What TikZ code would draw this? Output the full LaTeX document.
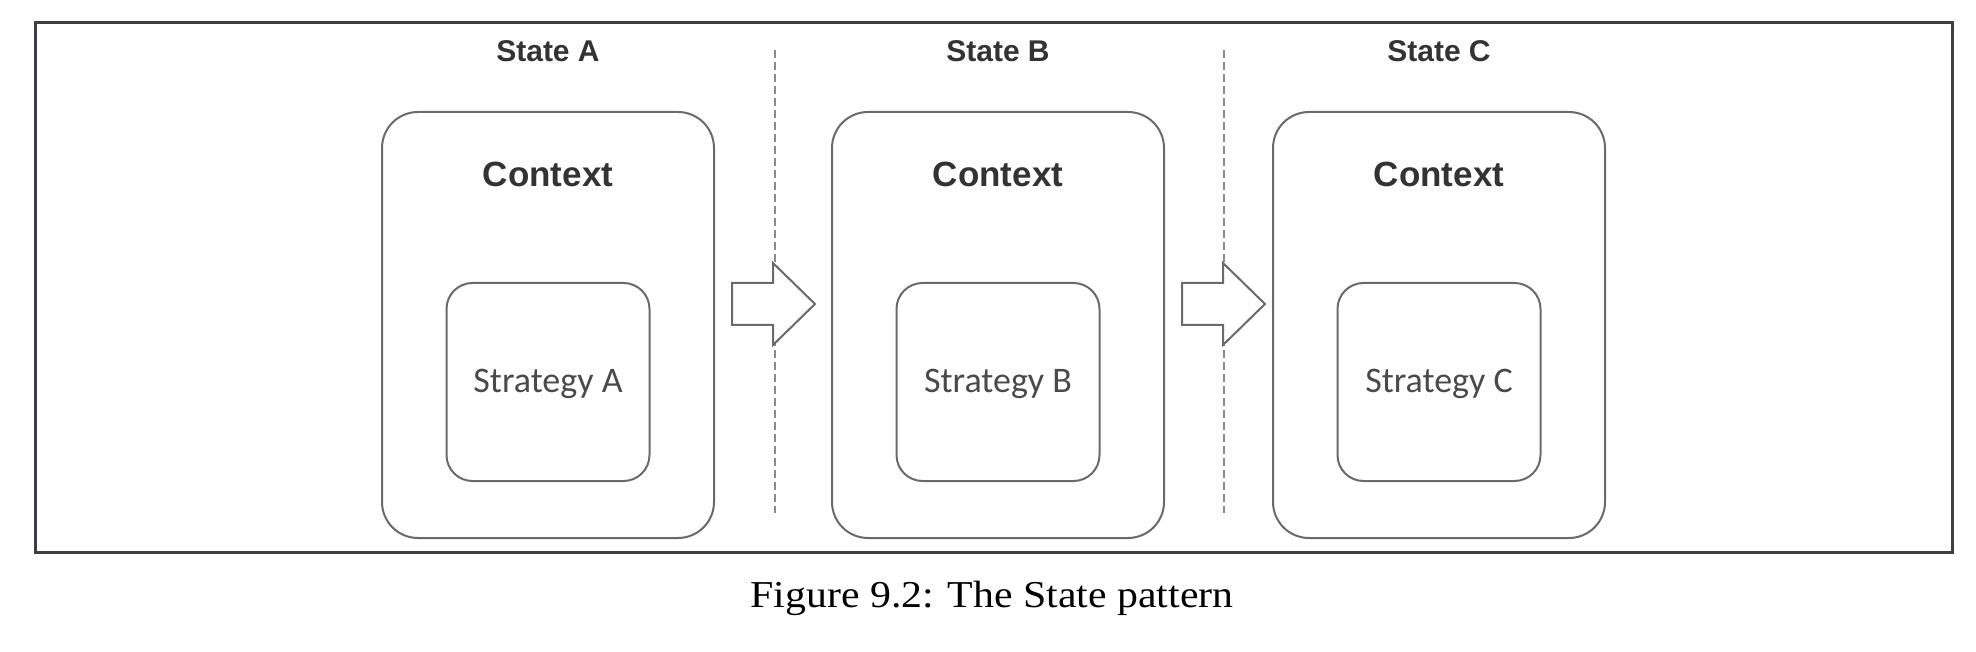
\documentclass[tikz,border=0pt]{standalone}
\usepackage{fontspec}
\newfontfamily\headfont{Liberation Sans}
\newfontfamily\stratfont{Carlito}
\newfontfamily\capfont[FakeStretch=1.1]{Liberation Serif}
\definecolor{framegray}{HTML}{3E3E46}
\definecolor{linegray}{HTML}{6A6A6A}
\definecolor{dashgray}{HTML}{8A8A8A}
\definecolor{textgray}{HTML}{333333}
\definecolor{stratgray}{HTML}{4A4A4A}
\begin{document}
\begin{tikzpicture}[x=0.5pt,y=-0.5pt,
	ctxbox/.style={draw=linegray,line width=1pt,rounded corners=18pt,minimum width=166pt,minimum height=213pt},
	stratbox/.style={draw=linegray,line width=1pt,rounded corners=13pt,minimum width=101.5pt,minimum height=99pt},
	headlabel/.style={anchor=base,inner sep=0pt,text=textgray,font=\headfont\bfseries\fontsize{15}{18}\selectfont},
	ctxlabel/.style={anchor=base,inner sep=0pt,text=textgray,font=\headfont\bfseries\fontsize{17.5}{21}\selectfont},
	stratlabel/.style={anchor=base,inner sep=0pt,text=stratgray,font=\stratfont\fontsize{18}{22}\selectfont},
	blockarrow/.style={draw=linegray,line width=1pt,fill=white,line join=miter}]
	\useasboundingbox (0,0) rectangle (1976,652);
	\draw[framegray,line width=1.5pt] (35,23) rectangle (1952,552);
	\foreach \s/\x in {A/548,B/998,C/1439}{
		\node[headlabel] (state\s) at (\x,62) {State \s};
		\node[ctxbox] (ctx\s) at (\x,325) {};
		\node[ctxlabel] (title\s) at (\x,187) {Context};
		\node[stratbox] (strat\s) at (\x,382) {};
		\node[stratlabel] (name\s) at (\x,393) {Strategy \s};
	}
	\foreach \x in {775,1224}
	\draw[dashgray,line width=1pt,dash pattern=on 4pt off 2pt] (\x,50) -- (\x,513);
	\foreach \x in {732,1182}
	\draw[blockarrow] (\x,283) -- ++(41,0) -- ++(0,-20) -- ++(42,41) -- ++(-42,41) -- ++(0,-20) -- ++(-41,0) -- cycle;
	\node[anchor=base,inner sep=0pt,font=\capfont\fontsize{19}{23}\selectfont] (caption) at (992,607) {Figure 9.2: The State pattern};
\end{tikzpicture}
\end{document}
